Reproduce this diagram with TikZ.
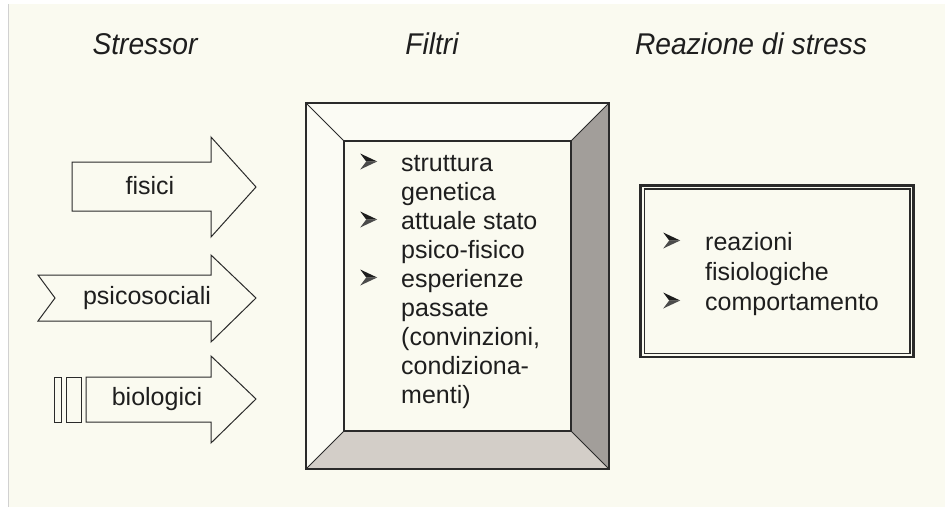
\documentclass[tikz,border=0pt]{standalone}
\usepackage{fontspec}
\setmainfont{Liberation Sans}
\definecolor{bg}{HTML}{FAFAF0}
\definecolor{txt}{HTML}{1E1E1E}
\definecolor{edge}{HTML}{2A2A2A}
\definecolor{lightbev}{HTML}{FBFBF4}
\definecolor{midbev}{HTML}{D3CEC8}
\definecolor{darkbev}{HTML}{A29E9A}
\newcommand{\bul}{\tikz[x=1pt,y=1pt,baseline=0pt]{\fill[txt] (0,17.5) -- (17,9.5) -- (6,9.5) -- cycle; \fill[txt!80] (0,1.5) -- (17,9.5) -- (6,9.5) -- cycle;}}
\begin{document}
\begin{tikzpicture}[x=1pt,y=-1pt,line join=miter,
  title/.style={font=\fontsize{30}{33}\selectfont\itshape, text=txt, inner sep=0pt, xscale=0.94},
  lab/.style={font=\fontsize{25}{29}\selectfont, text=txt, inner sep=0pt},
  arrowshape/.style={draw=edge, fill=bg, line width=1pt},
  list/.style={font=\fontsize{25}{29}\selectfont, text=txt, inner sep=0pt, anchor=base west}]
\useasboundingbox (0,0) rectangle (945,509);
\fill[white] (0,0) rectangle (945,509);
\fill[bg] (9,4) rectangle (945,507);
\draw[black!18, line width=0.8pt] (8,4) -- (8,507);

% titles
\node[title] (t1) at (145,44) {Stressor};
\node[title] (t2) at (432,44) {Filtri};
\node[title] (t3) at (751,44) {Reazione di stress};

% stressor arrows
\draw[arrowshape] (72,162) -- (211,162) -- (211,137) -- (256,187) -- (211,237) -- (211,211) -- (72,211) -- cycle;
\node[lab] (a1) at (150,186) {fisici};
\draw[arrowshape] (38,275) -- (211,275) -- (211,255) -- (256,298) -- (211,342) -- (211,321) -- (38,321) -- (55,298) -- cycle;
\node[lab] (a2) at (147,298) {psicosociali};
\draw[arrowshape] (86,377) -- (211,377) -- (211,356) -- (256,399) -- (211,443) -- (211,422) -- (86,422) -- cycle;
\draw[arrowshape] (54,377) rectangle (61,422);
\draw[arrowshape] (66,377) rectangle (81,422);
\node[lab] (a3) at (157,399) {biologici};

% filter box
\coordinate (fo1) at (306,103); \coordinate (fo2) at (609,103);
\coordinate (fo3) at (609,469); \coordinate (fo4) at (306,469);
\coordinate (fi1) at (344,141); \coordinate (fi2) at (571,141);
\coordinate (fi3) at (571,431); \coordinate (fi4) at (344,431);
\fill[lightbev] (fo1) -- (fo2) -- (fi2) -- (fi1) -- cycle;
\fill[lightbev] (fo1) -- (fi1) -- (fi4) -- (fo4) -- cycle;
\fill[darkbev] (fo2) -- (fo3) -- (fi3) -- (fi2) -- cycle;
\fill[midbev] (fo4) -- (fo3) -- (fi3) -- (fi4) -- cycle;
\fill[bg] (fi1) rectangle (fi3);
\draw[edge, line width=0.8pt] (fo1) -- (fi1) (fo2) -- (fi2) (fo3) -- (fi3) (fo4) -- (fi4);
\draw[edge, line width=1.2pt] (fi1) rectangle (fi3);
\draw[edge, line width=1.6pt] (fo1) rectangle (fo3);

\node[list] (f1) at (360,171) {\begin{tabular}[t]{@{}l@{}l@{}}
\makebox[41pt][l]{\bul} & struttura\\
 & genetica\\
\makebox[41pt][l]{\bul} & attuale stato\\
 & psico-fisico\\
\makebox[41pt][l]{\bul} & esperienze\\
 & passate\\
 & (convinzioni,\\
 & condiziona-\\
 & menti)
\end{tabular}};

% reaction box
\draw[edge, line width=2.6pt] (640.6,185.3) rectangle (913.6,357);
\draw[edge, line width=1.4pt] (644.3,189) rectangle (909.9,353.3);
\node[list] (r1) at (663,250) {\fontsize{25}{30}\selectfont\begin{tabular}[t]{@{}l@{}l@{}}
\makebox[42pt][l]{\bul} & reazioni\\
 & fisiologiche\\
\makebox[42pt][l]{\bul} & comportamento
\end{tabular}};
\end{tikzpicture}
\end{document}
